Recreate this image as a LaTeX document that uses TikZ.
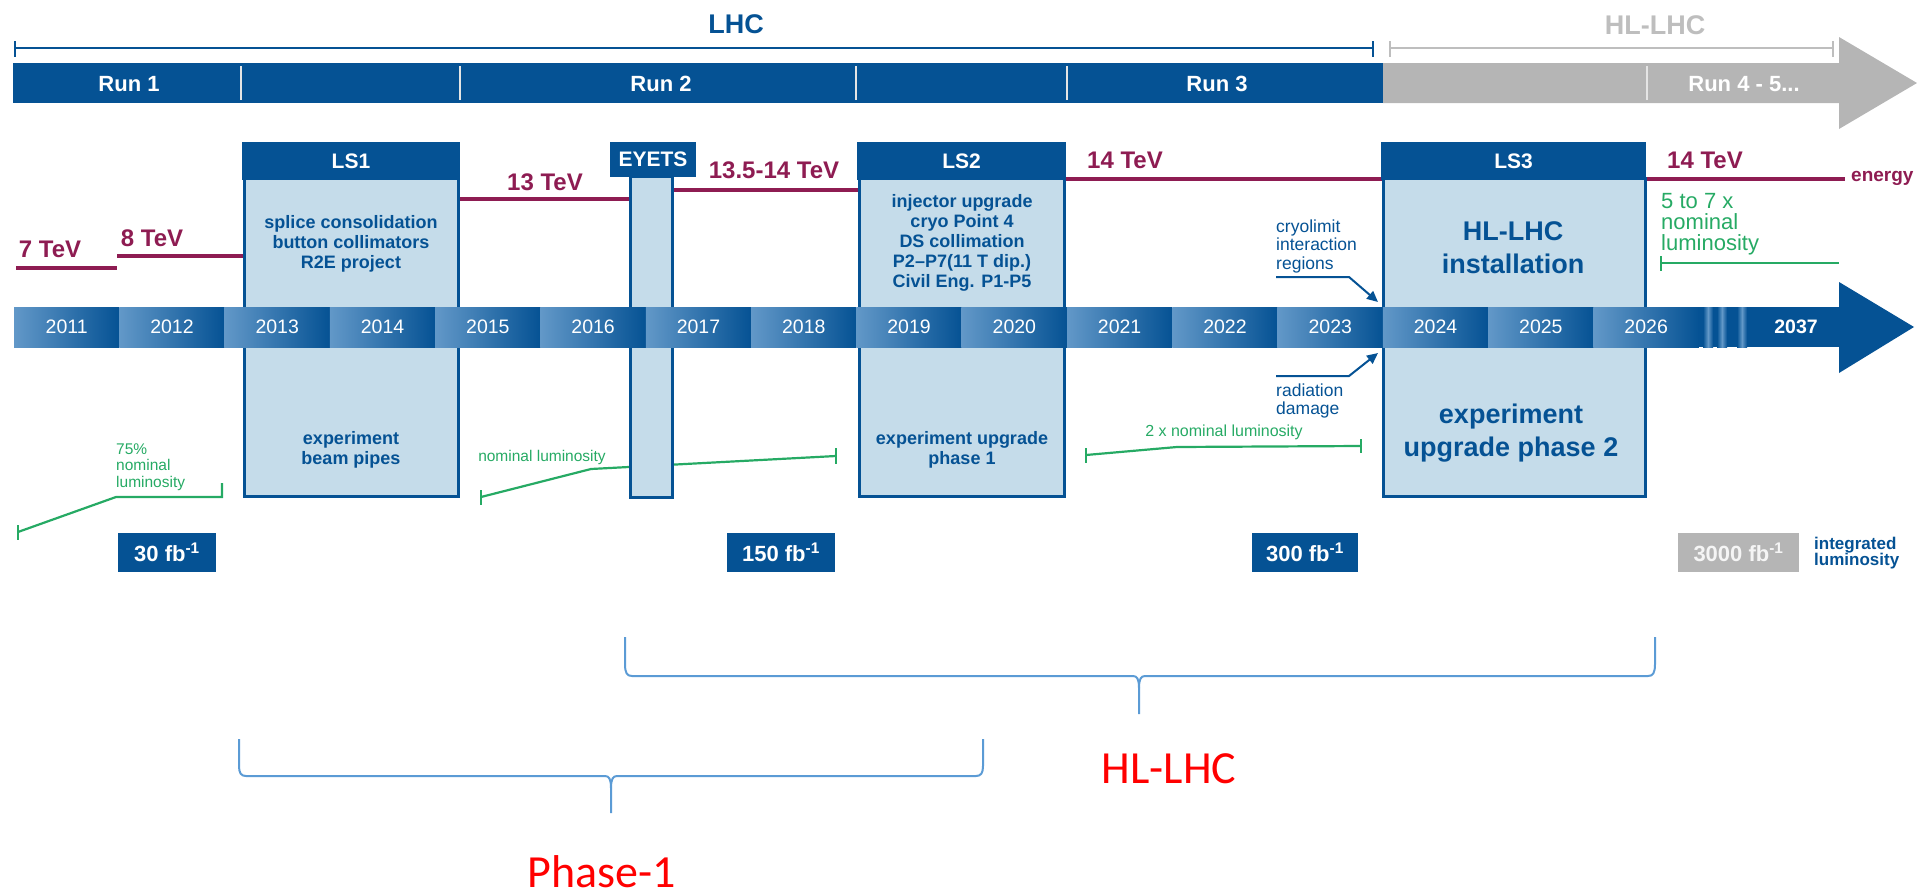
\documentclass[tikz,border=0pt]{standalone}
\usepackage{fontspec}
\setmainfont{Liberation Sans}
\newfontfamily\calib{Carlito}
\usetikzlibrary{arrows.meta}
\definecolor{db}{RGB}{5,82,148}
\definecolor{lb}{RGB}{197,220,234}
\definecolor{mr}{RGB}{142,28,82}
\definecolor{gr}{RGB}{181,181,181}
\definecolor{gt}{RGB}{190,190,190}
\definecolor{gn}{RGB}{38,170,100}
\definecolor{yl}{RGB}{98,152,200}
\definecolor{br}{RGB}{91,155,213}
\definecolor{rd}{RGB}{255,0,0}
\newcommand\fs[2]{\fontsize{#1}{#2}\selectfont}
\begin{document}
\begin{tikzpicture}[x=1pt,y=-1pt,
  lshead/.style={fill=db, text=white, font=\bfseries\fs{21}{24}, inner sep=0},
  lsbody/.style={fill=lb, draw=db, line width=3},
  eline/.style={draw=mr, line width=4.5},
  elab/.style={text=mr, font=\bfseries\fs{24}{28}, inner sep=0},
  gline/.style={draw=gn, line width=2.2},
  glab/.style={text=gn, inner sep=0, align=left},
  btxt/.style={text=db, font=\bfseries\fs{18}{20}, align=center, inner sep=0},
  runlab/.style={text=white, font=\bfseries\fs{22}{24}, inner sep=0},
  yeartxt/.style={text=white, font=\fs{19.5}{22}, inner sep=0},
  fbbox/.style={fill=db, text=white, font=\bfseries\fs{22}{24}, minimum height=39, inner sep=0},
  bracestyle/.style={draw=br, line width=2},
  redlab/.style={text=rd, font=\calib\fs{46}{50}, inner sep=0},
  callout/.style={draw=db, line width=2, -{Triangle[length=11,width=10]}},
  sep/.style={draw=white!80!gray, line width=1.2}
]
\useasboundingbox (0,0) rectangle (1917,894);

% ---------- top run bar ----------
\fill[db] (13,63) rectangle (1383,103);
\fill[gr] (1383,63) -- (1839,63) -- (1839,37) -- (1917,83) -- (1839,129) -- (1839,103) -- (1383,103) -- cycle;
\foreach \x in {241,460,856,1067,1647} \draw[sep] (\x,66) -- (\x,100);
\draw[db, line width=2.5] (15,41) -- (15,57) (15,48) -- (1373,48) (1373,41) -- (1373,57);
\draw[gt, line width=2.5] (1390,41) -- (1390,57) (1390,48) -- (1833,48) (1833,41) -- (1833,57);
\node[text=db, font=\bfseries\fs{27}{30}, inner sep=0] (lhc) at (736,24) {LHC};
\node[text=gt, font=\bfseries\fs{27}{30}, inner sep=0] (hllhc) at (1655,25) {HL-LHC};
\node[runlab] (run1) at (129,84) {Run 1};
\node[runlab] (run2) at (661,84) {Run 2};
\node[runlab] (run3) at (1217,84) {Run 3};
\node[runlab] (run4) at (1744,84) {Run 4 - 5...};

% ---------- luminosity lines (behind boxes) ----------
\draw[gline] (18,525) -- (18,540);
\draw[gline] (18,532) -- (116,497) -- (222,497) -- (222,483);
\draw[gline] (481,490) -- (481,505);
\draw[gline] (481,497) -- (591,469) -- (836,456);
\draw[gline] (836,448) -- (836,464);
\draw[gline] (1086,448) -- (1086,463);
\draw[gline] (1086,455) -- (1177,447) -- (1361,446);
\draw[gline] (1361,439) -- (1361,453);
\draw[gline] (1661,256) -- (1661,271);
\draw[gline] (1661,263) -- (1839,263);

% ---------- energy lines ----------
\draw[eline] (16,268) -- (117,268);
\draw[eline] (117,256) -- (244,256);
\draw[eline] (458,199) -- (630,199);
\draw[eline] (673,190) -- (859,190);
\draw[eline] (1064,179) -- (1383,179);
\draw[eline] (1645,179) -- (1845,179);
\node[elab] (e7) at (50,249) {7 TeV};
\node[elab] (e8) at (152,238) {8 TeV};
\node[elab] (e13) at (545,182) {13 TeV};
\node[elab] (e135) at (774,170) {13.5-14 TeV};
\node[elab] (e14a) at (1125,160) {14 TeV};
\node[elab] (e14b) at (1705,160) {14 TeV};
\node[text=mr, font=\bfseries\fs{19}{22}, inner sep=0, anchor=west] (energy) at (1851,178) {energy};

% ---------- shutdown boxes ----------
\draw[lsbody] (244,178) rectangle (458,496);
\node[lshead, minimum width=218, minimum height=38] (ls1) at (351,161) {LS1};
\draw[lsbody] (630,176) rectangle (672,497);
\node[lshead, minimum width=86, minimum height=35] (eyets) at (653,159.5) {EYETS};
\draw[lsbody] (859,178) rectangle (1064,496);
\node[lshead, minimum width=209, minimum height=38] (ls2) at (961.5,161) {LS2};
\draw[lsbody] (1383,178) rectangle (1645,496);
\node[lshead, minimum width=265, minimum height=38] (ls3) at (1513.5,161) {LS3};

% ---------- year bar ----------
\foreach \i in {0,...,15}{
  \pgfmathsetmacro\xa{14+105.3*\i}
  \pgfmathsetmacro\xb{14+105.3*(\i+1)}
  \pgfmathtruncatemacro\yr{2011+\i}
  \shade[left color=yl, right color=db] (\xa,307) rectangle (\xb,347);
  \node[yeartxt] (y\yr) at ({(\xa+\xb)/2},327) {\yr};
}
\fill[db] (1698,307) rectangle (1839,347);
\foreach \x in {1708,1722,1742}
  \shade[left color=db, right color=db, middle color=yl] (\x-5,307) rectangle (\x+5,347);
\fill[db] (1839,347) -- (1839,282) -- (1914,327) -- (1839,373) -- cycle;
\fill[db] (1830,307) rectangle (1840,347);
\node[text=white, font=\bfseries\fs{19.5}{22}, inner sep=0] (y2037) at (1796,327) {2037};

% ---------- box texts ----------
\node[btxt] (ls1t) at (351,244) {splice consolidation\\button collimators\\R2E project};
\node[btxt] (ls1b) at (351,450) {experiment\\beam pipes};
\node[btxt] (ls2t) at (962,243) {injector upgrade\\cryo Point 4\\DS collimation\\P2--P7(11 T dip.)\\Civil Eng. P1-P5};
\node[btxt] (ls2b) at (962,450) {experiment upgrade\\phase 1};
\node[btxt, font=\bfseries\fs{27}{33}] (ls3t) at (1513,248) {HL-LHC\\installation};
\node[btxt, font=\bfseries\fs{27}{33}] (ls3b) at (1511,433) {experiment\\upgrade phase 2};

% ---------- callouts ----------
\node[text=db, font=\fs{17.5}{18.5}, align=left, inner sep=0, anchor=west] (cryo) at (1276,246) {cryolimit\\interaction\\regions};
\node[text=db, font=\fs{17.5}{18}, align=left, inner sep=0, anchor=west] (rad) at (1276,401) {radiation\\damage};
\coordinate (c1a) at (1276,277);
\coordinate (c1b) at (1349,277);
\coordinate (c1c) at (1378,302);
\coordinate (c2a) at (1276,376);
\coordinate (c2b) at (1349,376);
\coordinate (c2c) at (1378,353);
\draw[callout] (c1a) -- (c1b) -- (c1c);
\draw[callout] (c2a) -- (c2b) -- (c2c);

% ---------- luminosity labels ----------
\node[glab, font=\fs{15.5}{16.5}, anchor=west] (l75) at (116,467) {75\%\\nominal\\luminosity};
\node[glab, font=\fs{15.5}{17}] (lnom) at (542,457) {nominal luminosity};
\node[glab, font=\fs{16}{18}] (l2x) at (1224,432) {2 x nominal luminosity};
\node[glab, font=\fs{22}{21}, anchor=west] (l57) at (1661,224) {5 to 7 x\\nominal\\luminosity};

% ---------- integrated luminosity ----------
\node[fbbox, minimum width=98] (fb30) at (167,552.5) {30 fb\textsuperscript{-1}};
\node[fbbox, minimum width=108] (fb150) at (781,552.5) {150 fb\textsuperscript{-1}};
\node[fbbox, minimum width=106] (fb300) at (1305,552.5) {300 fb\textsuperscript{-1}};
\node[fbbox, minimum width=121, fill=gr, text=white!92!gray] (fb3000) at (1738.5,552.5) {3000 fb\textsuperscript{-1}};
\node[text=db, font=\bfseries\fs{17}{16}, align=left, inner sep=0, anchor=west] (intl) at (1814,553) {integrated\\luminosity};

% ---------- braces ----------
\draw[bracestyle] (625,637) -- (625,664) .. controls (625,673) and (627,676) .. (632,676) -- (1133,676)
  .. controls (1137,676) and (1139,679) .. (1139,688) -- (1139,714);
\draw[bracestyle] (1139,688) .. controls (1139,679) and (1141,676) .. (1145,676) -- (1648,676)
  .. controls (1653,676) and (1655,673) .. (1655,664) -- (1655,637);
\draw[bracestyle] (239,739) -- (239,766) .. controls (239,773) and (241,776) .. (246,776) -- (605,776)
  .. controls (609,776) and (611,779) .. (611,788) -- (611,813);
\draw[bracestyle] (611,788) .. controls (611,779) and (613,776) .. (617,776) -- (976,776)
  .. controls (981,776) and (983,773) .. (983,766) -- (983,739);
\node[redlab] (hl) at (1169,769) {HL-LHC};
\node[redlab, anchor=base, text depth=0pt] (ph1) at (602,887) {Phase-1};
\end{tikzpicture}
\end{document}
